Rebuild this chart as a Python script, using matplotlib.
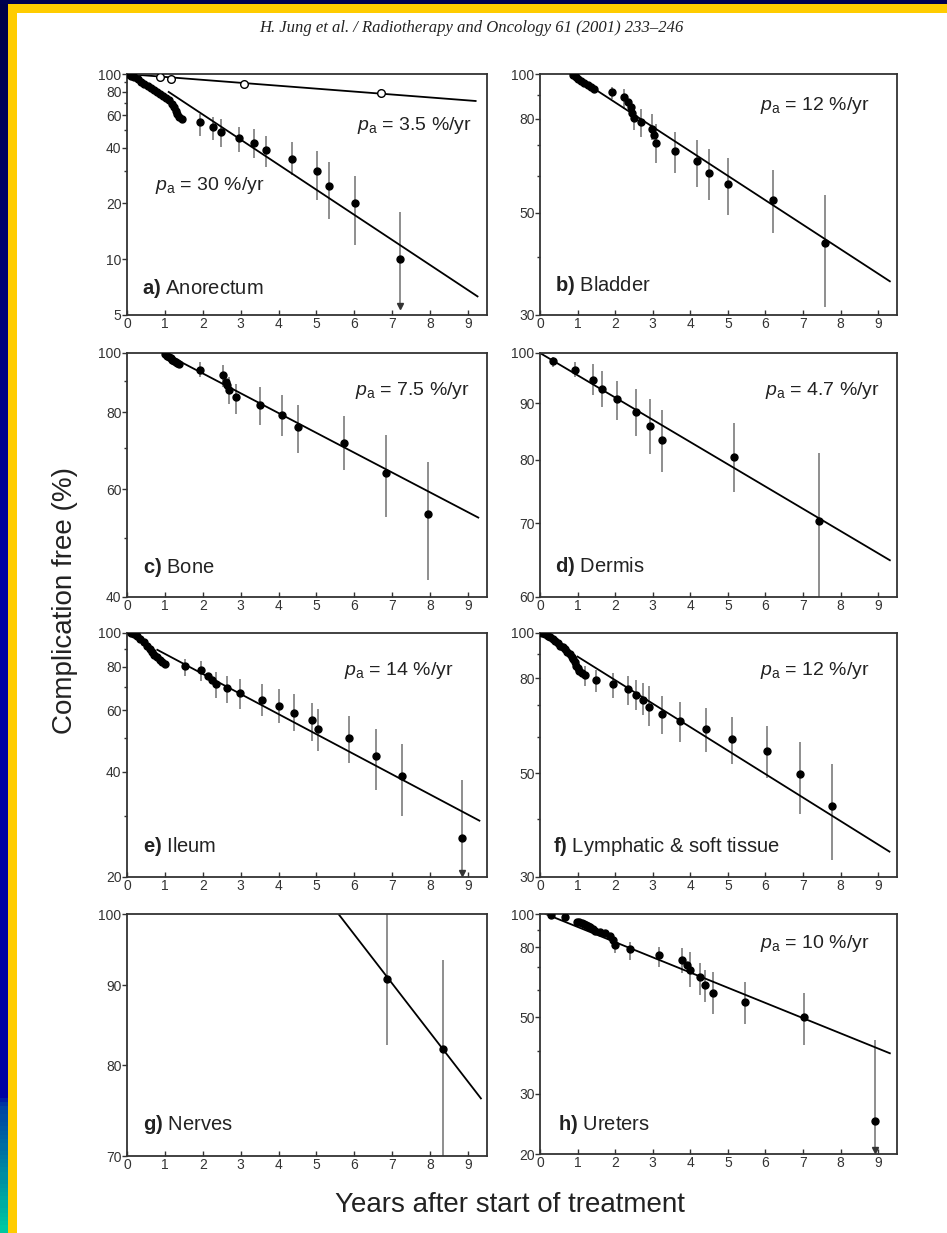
import numpy as np
import matplotlib
matplotlib.use("Agg")
import matplotlib.pyplot as plt
from matplotlib.patches import Rectangle
from matplotlib.colors import LinearSegmentedColormap
from matplotlib.ticker import FixedLocator, FixedFormatter, NullFormatter

plt.rcParams['font.family'] = ['Liberation Sans', 'DejaVu Sans']
plt.rcParams['mathtext.fontset'] = 'custom'
plt.rcParams['mathtext.rm'] = 'Liberation Sans'
plt.rcParams['mathtext.it'] = 'Liberation Sans:italic'
plt.rcParams['mathtext.bf'] = 'Liberation Sans:bold'

# ---- data (years, % complication free) ----
# a) Anorectum
a_dense_x = [0.02, 0.1, 0.19, 0.28, 0.37, 0.46, 0.55, 0.64, 0.72, 0.80, 0.88, 0.96, 1.04, 1.12, 1.18, 1.23, 1.28, 1.33, 1.38, 1.44]
a_dense_y = [100, 98, 96, 93.5, 91, 88.5, 86.5, 84, 82, 80, 78, 76.5, 74.5, 72, 69, 66, 63, 60.5, 58.5, 57.5]
a_x = [1.92, 2.27, 2.48, 2.95, 3.36, 3.67, 4.35, 5.01, 5.32, 6.02, 7.21]
a_y = [54.9, 52.0, 48.5, 45.2, 42.3, 39.0, 34.8, 29.9, 24.8, 20.0, 10.0]
a_hi = [61, 58.5, 57, 51.5, 50.5, 46.5, 43, 38.5, 33.5, 28, 18]
a_lo = [46.5, 44, 40.5, 38, 35, 31.5, 28.5, 21, 16.5, 12, 5.6]
a_open_x = [0.87, 1.17, 3.1, 6.7]
a_open_y = [96.5, 94.5, 88.5, 78.5]
a_open_hi = [96.5, 94.5, 90.5, 83]
a_open_lo = [96.5, 94.5, 86.5, 74.5]
a_fit1_x = [0, 9.2]
a_fit1_y = [100, 71.5]
a_fit2_x = [1.1, 9.25]
a_fit2_y = [80, 6.3]
a_arrow_x = [7.21]
a_arrow_y = [5.6]

# b) Bladder
b_dense_x = [0.89, 0.95, 1.02, 1.1, 1.18, 1.27, 1.36, 1.44]
b_dense_y = [99.5, 98.5, 97.6, 96.5, 95.6, 94.6, 93.6, 92.8]
b_x = [1.91, 2.23, 2.35, 2.41, 2.46, 2.51, 2.68, 2.97, 3.03, 3.10, 3.59, 4.17, 4.50, 5.01, 6.21, 7.58]
b_y = [91.3, 89.1, 86.9, 84.8, 82.3, 80.4, 78.7, 76.1, 73.7, 70.7, 68.2, 64.8, 61.1, 57.7, 53.3, 43.0]
b_hi = [93.6, 92.8, 86.9, 84.8, 82.3, 84.8, 84.0, 82.0, 73.7, 78.0, 74.9, 71.8, 68.9, 65.6, 61.9, 54.7]
b_lo = [88.3, 84.0, 86.9, 84.8, 82.3, 75.5, 73.0, 71.8, 73.7, 64.0, 60.9, 57.0, 53.3, 49.5, 45.2, 31.2]
b_fit_x = [0.84, 9.31]
b_fit_y = [100, 35.5]

# c) Bone
c_dense_x = [1.01, 1.06, 1.10, 1.15, 1.19, 1.24, 1.28, 1.33, 1.37]
c_dense_y = [99.5, 99, 98.5, 98, 97.5, 97.1, 96.7, 96.4, 96.1]
c_x = [1.92, 2.54, 2.60, 2.65, 2.69, 2.87, 3.51, 4.10, 4.52, 5.72, 6.84, 7.94]
c_y = [93.9, 91.9, 89.7, 88.6, 86.9, 84.8, 82.2, 79.1, 75.7, 71.3, 63.7, 54.6]
c_hi = [96.7, 95.5, 89.7, 88.6, 91.4, 89.1, 88.0, 85.3, 82.2, 78.8, 73.4, 66.4]
c_lo = [91.4, 88.0, 89.7, 88.6, 82.7, 79.6, 76.2, 73.1, 68.7, 64.4, 54.0, 42.7]
c_fit_x = [0.97, 9.27]
c_fit_y = [100, 53.9]

# d) Dermis
d_x = [0.34, 0.93, 1.40, 1.64, 2.04, 2.55, 2.94, 3.24, 5.16, 7.43]
d_y = [98.3, 96.6, 94.6, 92.8, 90.8, 88.4, 85.8, 83.3, 80.5, 70.4]
d_hi = [99.2, 98.1, 97.8, 96.3, 94.4, 92.8, 90.9, 88.7, 86.3, 81.1]
d_lo = [97.1, 95.1, 91.5, 89.3, 87.0, 84.0, 81.0, 77.9, 74.7, 60.0]
d_fit_x = [0, 9.31]
d_fit_y = [100, 64.8]

# e) Ileum
e_dense_x = [0.1, 0.18, 0.26, 0.35, 0.44, 0.53, 0.60, 0.66, 0.72, 0.79, 0.86, 0.93, 1.0]
e_dense_y = [100, 99.3, 97.8, 96.1, 94, 91.9, 90, 88, 86.5, 85.1, 83.9, 82.7, 81.4]
e_x = [1.52, 1.96, 2.14, 2.25, 2.34, 2.63, 2.98, 3.55, 4.02, 4.41, 4.87, 5.05, 5.87, 6.58, 7.27, 8.85]
e_y = [80.6, 78.4, 75.4, 73.4, 71.3, 69.4, 67.2, 64.3, 61.8, 59.1, 56.4, 53.2, 50.1, 44.4, 38.9, 25.9]
e_hi = [84.2, 83.3, 75.4, 73.4, 77.1, 75.4, 73.8, 71.3, 69.0, 66.8, 63.2, 60.5, 57.8, 53.0, 48.0, 38.0]
e_lo = [75.4, 72.9, 75.4, 73.4, 65.3, 63.2, 60.5, 57.8, 55.4, 52.4, 49.0, 45.9, 42.5, 35.6, 29.9, 20.6]
e_fit_x = [0.8, 9.3]
e_fit_y = [89.5, 29]
e_arrow_x = [8.85]
e_arrow_y = [20.6]

# f) Lymphatic & soft tissue
f_dense_x = [0.05, 0.13, 0.2, 0.27, 0.34, 0.40, 0.47, 0.53, 0.60, 0.66, 0.73, 0.80, 0.85, 0.89, 0.93, 0.96, 1.0, 1.05, 1.12]
f_dense_y = [100, 99.5, 98.7, 97.9, 97.1, 96.3, 95, 93.9, 93.1, 92.4, 91.2, 90.1, 89, 87.9, 86.5, 85.1, 84, 83, 82.2]
f_x = [1.20, 1.49, 1.93, 2.35, 2.55, 2.73, 2.91, 3.24, 3.72, 4.43, 5.12, 6.05, 6.91, 7.78]
f_y = [81.4, 79.4, 77.9, 75.8, 73.7, 71.9, 69.5, 67.0, 64.8, 62.3, 59.3, 56.0, 49.8, 42.5]
f_hi = [84.9, 83.5, 82.2, 80.8, 79.4, 78.1, 76.8, 73.3, 71.3, 68.9, 66.1, 63.2, 58.3, 52.3]
f_lo = [76.8, 74.9, 72.5, 70.1, 68.4, 66.7, 63.1, 60.9, 58.3, 55.5, 52.3, 49.0, 40.9, 32.6]
f_fit_x = [1.0, 9.3]
f_fit_y = [89, 34]

# g) Nerves
g_x = [6.87, 8.34]
g_y = [90.9, 81.9]
g_hi = [100, 93.4]
g_lo = [82.5, 70]
g_fit_x = [5.58, 9.34]
g_fit_y = [100, 76.2]

# h) Ureters
h_dense_x = [0.28, 0.66, 0.99, 1.05, 1.11, 1.16, 1.22, 1.28, 1.33, 1.40, 1.46, 1.60, 1.73, 1.86, 1.95]
h_dense_y = [99.3, 97.8, 95.0, 94.5, 93.9, 93.4, 92.9, 92.2, 91.4, 90.4, 89.4, 88.6, 87.8, 86.3, 84.0]
h_x = [2.0, 2.39, 3.17, 3.77, 3.90, 3.99, 4.26, 4.39, 4.61, 5.45, 7.02, 8.91]
h_y = [81.2, 78.9, 75.9, 73.5, 71.0, 68.7, 65.4, 62.1, 59.0, 55.6, 50.2, 25.0]
h_hi = [85.9, 83.0, 80.3, 79.4, 71.0, 77.7, 71.8, 68.7, 67.9, 63.5, 58.7, 43.0]
h_lo = [76.8, 73.4, 70.2, 67.2, 71.0, 61.4, 58.1, 55.6, 51.3, 47.8, 41.5, 20.6]
h_fit_x = [0.15, 9.31]
h_fit_y = [100, 39.3]
h_arrow_x = [8.91]
h_arrow_y = [20.6]

W, H = 947, 1233
fig = plt.figure(figsize=(W / 100, H / 100), dpi=100)
fig.patch.set_facecolor('white')

# slide border: gradient strip on the left, navy line on top, yellow frame
grad = fig.add_axes([0, 0, 8 / W, 1 - 4 / H])
cmap = LinearSegmentedColormap.from_list('edge', [(0, '#000048'), (0.45, '#0000a0'), (0.89, '#0000a0'),
                                                  (0.9, '#0040a0'), (1.0, '#00c8a0')])
grad.imshow(np.linspace(0, 1, 300).reshape(-1, 1), aspect='auto', cmap=cmap, extent=[0, 1, 0, 1])
grad.axis('off')
fig.add_artist(Rectangle((0, 1 - 4 / H), 1, 4 / H, transform=fig.transFigure, color='#000050', lw=0))
fig.add_artist(Rectangle((8 / W, 1 - 13 / H), 1, 9 / H, transform=fig.transFigure, color='#ffcc00', lw=0))
fig.add_artist(Rectangle((8 / W, 0), 9 / W, 1 - 4 / H, transform=fig.transFigure, color='#ffcc00', lw=0))

def make_ax(l, t, r, b):
    return fig.add_axes([l / W, 1 - b / H, (r - l) / W, (b - t) / H])

def style(ax, ylim, major, minor):
    ax.set_yscale('log')
    ax.set_xlim(0, 9.5)
    ax.set_ylim(*ylim)
    ax.yaxis.set_major_locator(FixedLocator(major))
    ax.yaxis.set_major_formatter(FixedFormatter([str(v) for v in major]))
    ax.yaxis.set_minor_locator(FixedLocator(minor))
    ax.yaxis.set_minor_formatter(NullFormatter())
    ax.set_xticks(range(10))
    ax.tick_params(axis='y', which='major', direction='out', length=3.5, width=1, pad=0.5,
                   labelsize=10, colors='#333333')
    ax.tick_params(axis='y', which='minor', direction='out', length=2.5, width=1, colors='#333333')
    ax.tick_params(axis='x', which='major', direction='in', length=3.5, width=1, pad=1.5,
                   labelsize=10, colors='#333333')
    for s in ax.spines.values():
        s.set_color('#333333')
        s.set_linewidth(1.3)

def draw(ax, x, y, lo, hi, fit_x, fit_y, dense_x=None, dense_y=None):
    ax.plot(fit_x, fit_y, color='black', lw=1.3, zorder=2)
    ax.vlines(x, lo, hi, color='#707070', lw=1.1, zorder=1)
    ax.plot(x, y, 'o', color='black', ms=5, zorder=3)
    if dense_x is not None:
        ax.plot(dense_x, dense_y, 'o', color='black', ms=5, zorder=3)

def rate(ax, xf, yf, txt):
    ax.text(xf, yf, r'$p_{\mathrm{a}}$ = ' + txt, transform=ax.transAxes, ha='right', va='center',
            fontsize=14, color='#222222')

def label(ax, xf, yf, letter, name):
    ax.text(xf, yf, r'$\mathbf{' + letter + ')}$ ' + name, transform=ax.transAxes, ha='left',
            va='center', fontsize=14.5, color='#222222')

# a) Anorectum
ax = make_ax(127, 74, 487, 315)
style(ax, (5, 100), [5, 10, 20, 40, 60, 80, 100], [30, 50, 70, 90])
draw(ax, a_x, a_y, a_lo, a_hi, a_fit2_x, a_fit2_y, a_dense_x, a_dense_y)
ax.plot(a_fit1_x, a_fit1_y, color='black', lw=1.3, zorder=2)
ax.vlines(a_open_x, a_open_lo, a_open_hi, color='#707070', lw=1.1)
ax.plot(a_open_x, a_open_y, 'o', mfc='white', mec='black', mew=1, ms=5.5, zorder=3)
ax.plot(a_arrow_x, a_arrow_y, 'v', color='#333333', ms=4)
rate(ax, 0.958, 0.788, '3.5 %/yr')
ax.text(0.078, 0.539, r'$p_{\mathrm{a}}$ = 30 %/yr', transform=ax.transAxes, ha='left', va='center',
        fontsize=14, color='#222222')
label(ax, 0.042, 0.112, 'a', 'Anorectum')

# b) Bladder
ax = make_ax(540, 74, 897, 315)
style(ax, (30, 100), [30, 50, 80, 100], [40, 60, 70, 90])
draw(ax, b_x, b_y, b_lo, b_hi, b_fit_x, b_fit_y, b_dense_x, b_dense_y)
rate(ax, 0.924, 0.871, '12 %/yr')
label(ax, 0.042, 0.124, 'b', 'Bladder')

# c) Bone
ax = make_ax(127, 353, 487, 597)
style(ax, (40, 100), [40, 60, 80, 100], [50, 70, 90])
draw(ax, c_x, c_y, c_lo, c_hi, c_fit_x, c_fit_y, c_dense_x, c_dense_y)
rate(ax, 0.953, 0.848, '7.5 %/yr')
label(ax, 0.044, 0.119, 'c', 'Bone')

# d) Dermis
ax = make_ax(540, 353, 897, 597)
style(ax, (60, 100), [60, 70, 80, 90, 100], [])
draw(ax, d_x, d_y, d_lo, d_hi, d_fit_x, d_fit_y)
rate(ax, 0.952, 0.848, '4.7 %/yr')
label(ax, 0.042, 0.123, 'd', 'Dermis')

# e) Ileum
ax = make_ax(127, 633, 487, 877)
style(ax, (20, 100), [20, 40, 60, 80, 100], [30, 50, 70, 90])
draw(ax, e_x, e_y, e_lo, e_hi, e_fit_x, e_fit_y, e_dense_x, e_dense_y)
ax.plot(e_arrow_x, e_arrow_y, 'v', color='#333333', ms=4)
rate(ax, 0.906, 0.848, '14 %/yr')
label(ax, 0.044, 0.123, 'e', 'Ileum')

# f) Lymphatic & soft tissue
ax = make_ax(540, 633, 897, 877)
style(ax, (30, 100), [30, 50, 80, 100], [40, 60, 70, 90])
draw(ax, f_x, f_y, f_lo, f_hi, f_fit_x, f_fit_y, f_dense_x, f_dense_y)
rate(ax, 0.924, 0.848, '12 %/yr')
label(ax, 0.036, 0.123, 'f', r'Lymphatic & soft tissue')

# g) Nerves
ax = make_ax(127, 914, 487, 1156)
style(ax, (70, 100), [70, 80, 90, 100], [])
draw(ax, g_x, g_y, g_lo, g_hi, g_fit_x, g_fit_y)
label(ax, 0.044, 0.132, 'g', 'Nerves')

# h) Ureters
ax = make_ax(540, 914, 897, 1154)
style(ax, (20, 100), [20, 30, 50, 80, 100], [40, 60, 70, 90])
draw(ax, h_x, h_y, h_lo, h_hi, h_fit_x, h_fit_y, h_dense_x, h_dense_y)
ax.plot(h_arrow_x, h_arrow_y, 'v', color='#333333', ms=4)
rate(ax, 0.924, 0.879, '10 %/yr')
label(ax, 0.05, 0.125, 'h', 'Ureters')

fig.text(0.498, 1 - 28 / H, 'H. Jung et al. / Radiotherapy and Oncology 61 (2001) 233\u2013246',
         ha='center', va='center', fontsize=12, family='Liberation Serif', style='italic', color='#222222')
fig.text(0.539, 1 - 1205 / H, 'Years after start of treatment', ha='center', va='center',
         fontsize=20, color='#222222')
fig.text(65 / W, 1 - 600 / H, 'Complication free (%)', rotation=90, ha='center', va='center',
         fontsize=20, color='#222222')

fig.savefig('out.png', dpi=100, facecolor='white')
